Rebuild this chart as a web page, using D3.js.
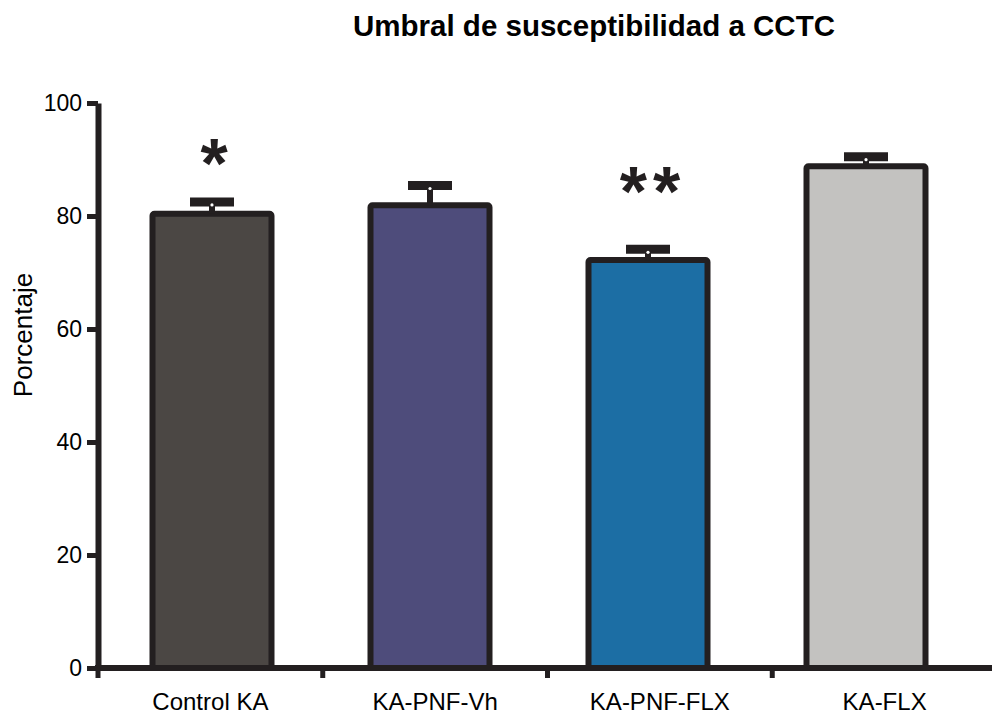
<!DOCTYPE html>
<html>
<head>
<meta charset="utf-8">
<script src="https://cdn.jsdelivr.net/npm/d3@7"></script>
<style>
  body { margin: 0; background: #fff; }
  svg { display: block; font-family: "Liberation Sans", Arial, sans-serif; }
</style>
</head>
<body>
<svg id="chart" width="992" height="715"></svg>
<script>
// data
const categories = ["Control KA", "KA-PNF-Vh", "KA-PNF-FLX", "KA-FLX"];
const means = [80.4, 81.9, 72.2, 88.8];
const errTops = [82.5, 85.4, 74.1, 90.5];
const stars = ["*", "", "**", ""];
const starLevels = [88.7, 0, 83.7, 0]; // where the bottom of each mark sits
const fills = ["#4b4744", "#4e4c7b", "#1c6ea4", "#c3c2c0"];
const yTicks = [0, 20, 40, 60, 80, 100];

const ink = "#231f20";
const svg = d3.select("#chart");

const y = d3.scaleLinear().domain([0, 100]).range([668, 103]);
// category bands (ticks + labels)
const xBand = d3.scaleBand().domain(categories).range([98, 997]).padding(0);
// bar centres sit a bit left of the band centres in the original
const xBar = d3.scalePoint().domain(categories).range([212, 866]);
const barW = 119;
const capW = 44;

// title
svg.append("text")
  .attr("x", 594).attr("y", 36)
  .attr("text-anchor", "middle")
  .style("font-weight", "bold")
  .style("font-size", "29.5px")
  .text("Umbral de susceptibilidad a CCTC");

// y label
svg.append("text")
  .attr("transform", "translate(32,335) rotate(-90)")
  .attr("text-anchor", "middle")
  .style("font-size", "26px")
  .text("Porcentaje");

// bars
const g = svg.append("g");
g.selectAll("rect.bar")
  .data(categories)
  .enter().append("rect")
  .attr("class", "bar")
  .attr("x", d => xBar(d) - barW / 2)
  .attr("y", (d, i) => y(means[i]))
  .attr("width", barW)
  .attr("height", (d, i) => y(0) - y(means[i]))
  .attr("rx", 2)
  .attr("fill", (d, i) => fills[i])
  .attr("stroke", ink)
  .attr("stroke-width", 6);

// error bars
g.selectAll("line.stem")
  .data(categories)
  .enter().append("line")
  .attr("x1", d => xBar(d)).attr("x2", d => xBar(d))
  .attr("y1", (d, i) => y(means[i]))
  .attr("y2", (d, i) => y(errTops[i]))
  .attr("stroke", ink)
  .attr("stroke-width", 6);

g.selectAll("line.cap")
  .data(categories)
  .enter().append("line")
  .attr("x1", d => xBar(d) - capW / 2)
  .attr("x2", d => xBar(d) + capW / 2)
  .attr("y1", (d, i) => y(errTops[i]))
  .attr("y2", (d, i) => y(errTops[i]))
  .attr("stroke", ink)
  .attr("stroke-width", 9);

g.selectAll("circle.dot")
  .data(categories)
  .enter().append("circle")
  .attr("cx", d => xBar(d))
  .attr("cy", (d, i) => y(errTops[i]) + 3)
  .attr("r", 1.6)
  .attr("fill", "#fff");

// significance marks
g.selectAll("text.star")
  .data(categories)
  .enter().append("text")
  .attr("x", d => xBar(d) + 5)
  .attr("y", (d, i) => y(starLevels[i]) + 21)
  .attr("text-anchor", "middle")
  .style("font-size", "70px")
  .style("font-weight", "bold")
  .style("letter-spacing", "6px")
  .attr("fill", ink)
  .text((d, i) => stars[i]);

// y axis
const yAxis = svg.append("g")
  .attr("transform", "translate(98,0)")
  .call(d3.axisLeft(y).tickValues(yTicks).tickSize(11).tickPadding(5).tickSizeOuter(0));
yAxis.select(".domain").attr("stroke", ink).attr("stroke-width", 6);
yAxis.selectAll(".tick line").attr("stroke", ink).attr("stroke-width", 5);
yAxis.selectAll(".tick text")
  .attr("fill", "#000")
  .style("font-size", "23px")
  .style("font-family", "'Liberation Sans', Arial, sans-serif");

// x axis
const xAxis = svg.append("g").attr("transform", "translate(0,668)");
xAxis.append("line")
  .attr("x1", 95).attr("x2", 992)
  .attr("stroke", ink).attr("stroke-width", 6);
xAxis.selectAll("line.tick")
  .data(categories)
  .enter().append("line")
  .attr("x1", d => xBand(d)).attr("x2", d => xBand(d))
  .attr("y1", 0).attr("y2", 10)
  .attr("stroke", ink).attr("stroke-width", 5);
xAxis.selectAll("text.lab")
  .data(categories)
  .enter().append("text")
  .attr("x", d => xBand(d) + xBand.bandwidth() / 2)
  .attr("y", 42)
  .attr("text-anchor", "middle")
  .style("font-size", "24px")
  .text(d => d);
</script>
</body>
</html>
